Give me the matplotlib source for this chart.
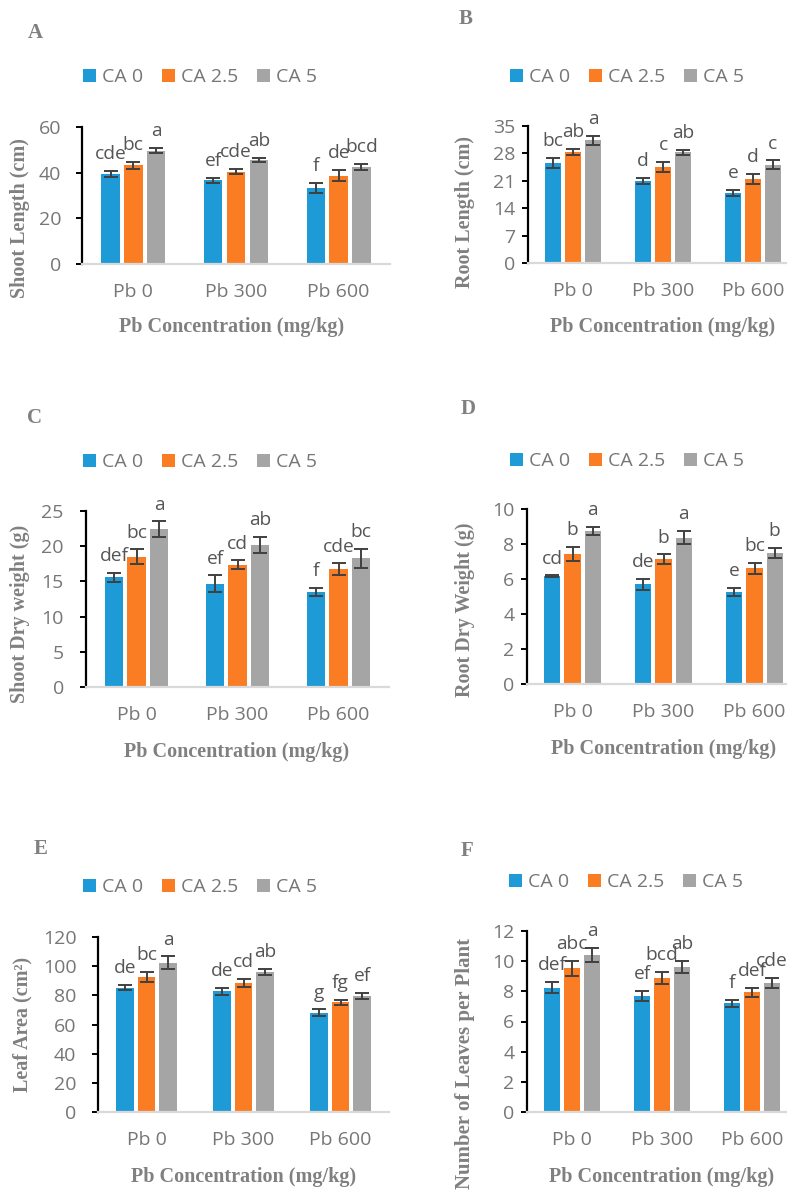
"""
Growth traits under Pb stress with citric acid (CA) doses - six panel bar chart
"""
import matplotlib
matplotlib.use("Agg")
import matplotlib.pyplot as plt
import numpy as np

W, H = 787, 1191

groups = ["Pb 0", "Pb 300", "Pb 600"]
series = ["CA 0", "CA 2.5", "CA 5"]
colors = ["#1E9BD7", "#FA7D23", "#A5A5A5"]

# values per series (CA 0, CA 2.5, CA 5), each over Pb 0 / 300 / 600
shoot_length = [[39.4, 36.6, 33.3], [43.3, 40.4, 38.7], [49.7, 45.6, 42.6]]
shoot_length_err = [[1.5, 1.2, 2.3], [1.5, 1.2, 2.4], [1.3, 0.9, 1.4]]
shoot_length_let = [["cde", "ef", "f"], ["bc", "cde", "de"], ["a", "ab", "bcd"]]

root_length = [[25.5, 21.0, 17.8], [28.4, 24.6, 21.5], [31.3, 28.3, 25.1]]
root_length_err = [[1.3, 0.8, 0.8], [0.85, 1.3, 1.2], [1.15, 0.6, 1.1]]
root_length_let = [["bc", "d", "e"], ["ab", "c", "d"], ["a", "ab", "c"]]

shoot_dw = [[15.6, 14.7, 13.5], [18.5, 17.4, 16.7], [22.4, 20.2, 18.3]]
shoot_dw_err = [[0.66, 1.15, 0.6], [1.04, 0.57, 0.85], [1.13, 1.1, 1.35]]
shoot_dw_let = [["def", "ef", "f"], ["bc", "cd", "cde"], ["a", "ab", "bc"]]

root_dw = [[6.16, 5.70, 5.27], [7.43, 7.13, 6.62], [8.75, 8.37, 7.49]]
root_dw_err = [[0.05, 0.3, 0.24], [0.4, 0.28, 0.31], [0.25, 0.36, 0.29]]
root_dw_let = [["cd", "de", "e"], ["b", "b", "bc"], ["a", "a", "b"]]

leaf_area = [[85.2, 82.7, 68.1], [92.5, 88.4, 75.2], [102.5, 95.9, 79.5]]
leaf_area_err = [[1.7, 2.3, 2.2], [3.4, 3.0, 1.9], [4.2, 2.2, 2.0]]
leaf_area_let = [["de", "de", "g"], ["bc", "cd", "fg"], ["a", "ab", "ef"]]

leaves = [[8.25, 7.70, 7.21], [9.53, 8.89, 7.94], [10.43, 9.62, 8.54]]
leaves_err = [[0.38, 0.32, 0.24], [0.5, 0.42, 0.29], [0.46, 0.41, 0.34]]
leaves_let = [["def", "ef", "f"], ["abc", "bcd", "def"], ["a", "ab", "cde"]]

SANS = ["Open Sans", "DejaVu Sans"]
SERIF = ["Liberation Serif", "DejaVu Serif"]
TXT = "#767676"
LAB = "#808080"

# layout of each panel, in pixels from top-left
panels = [
    dict(tag="A", vals=shoot_length, err=shoot_length_err, let=shoot_length_let,
         ylabel="Shoot Length (cm)", ymax=60, step=20,
         box=(82, 390, 127, 264), pad=11, lab=(20, 218, "center"),
         leg=(200, 77), tagpos=(35, 33), xl=(232, 327)),
    dict(tag="B", vals=root_length, err=root_length_err, let=root_length_let,
         ylabel="Root Length (cm)", ymax=35, step=7,
         box=(528, 798, 126, 263), pad=5, lab=(465, 212, "center"),
         leg=(627, 77), tagpos=(466, 19), xl=(663, 327)),
    dict(tag="C", vals=shoot_dw, err=shoot_dw_err, let=shoot_dw_let,
         ylabel="Shoot Dry weight (g)", ymax=25, step=5,
         box=(86, 389, 511, 687), pad=12, lab=(20, 614, "center"),
         leg=(200, 462), tagpos=(34, 418), xl=(237, 752)),
    dict(tag="D", vals=root_dw, err=root_dw_err, let=root_dw_let,
         ylabel="Root Dry Weight (g)", ymax=10, step=2,
         box=(527, 800, 509, 684), pad=5, lab=(465, 610, "center"),
         leg=(627, 461), tagpos=(468, 409), xl=(664, 749)),
    dict(tag="E", vals=leaf_area, err=leaf_area_err, let=leaf_area_let,
         ylabel="Leaf Area (cm²)", ymax=120, step=20,
         box=(98, 389, 937, 1112), pad=11.5, lab=(22, 1024, "center"),
         leg=(200, 887), tagpos=(41, 849), xl=(244, 1177)),
    dict(tag="F", vals=leaves, err=leaves_err, let=leaves_let,
         ylabel="Number of Leaves per Plant", ymax=12, step=2,
         box=(527, 797, 931, 1112), pad=5, lab=(465, 938, "top"),
         leg=(626, 882), tagpos=(467, 851), xl=(662, 1177)),
]

fig = plt.figure(figsize=(W / 100, H / 100), dpi=100)
fig.patch.set_facecolor("white")

x = np.arange(len(groups))
width = 0.18
step_off = 0.222

for p in panels:
    l, r, t, b = p["box"]
    ax = fig.add_axes([l / W, 1 - b / H, (r - l) / W, (b - t) / H])
    bars = []
    for i, name in enumerate(series):
        xs = x + (i - 1) * step_off
        bc = ax.bar(xs, p["vals"][i], width, color=colors[i], label=name, zorder=2)
        bars.append(bc)
        ax.errorbar(xs, p["vals"][i], yerr=p["err"][i], fmt="none", ecolor="#404040",
                    elinewidth=1.4, capsize=5, capthick=1.4, zorder=3)
        for xi, v, e, s in zip(xs, p["vals"][i], p["err"][i], p["let"][i]):
            ax.annotate(s, xy=(xi, v + e), xytext=(0, 8.5), textcoords="offset points",
                        ha="center", va="baseline", fontsize=13.8, color="#555555",
                        family=SANS, annotation_clip=False)

    ax.set_xlim(-0.5, 2.5)
    ax.set_ylim(0, p["ymax"])
    ax.set_yticks(np.arange(0, p["ymax"] + 0.01, p["step"]))
    ax.set_xticks(x)
    ax.set_xticklabels(groups)
    for sp in ["top", "right"]:
        ax.spines[sp].set_visible(False)
    ax.spines["left"].set_color("black")
    ax.spines["left"].set_linewidth(1.6)
    ax.spines["bottom"].set_color("#D9D9D9")
    ax.spines["bottom"].set_linewidth(1.6)
    ax.tick_params(axis="y", direction="out", length=4, width=1.4, color="black",
                   pad=p["pad"], labelsize=14, labelcolor=TXT)
    ax.tick_params(axis="x", length=0, pad=14, labelsize=14, labelcolor=TXT)
    for lbl in ax.get_xticklabels() + ax.get_yticklabels():
        lbl.set_family(SANS)

    fig.legend(handles=bars, labels=series, loc="center", ncol=3,
               bbox_to_anchor=(p["leg"][0] / W, 1 - p["leg"][1] / H),
               frameon=False, handlelength=0.65, handleheight=0.65,
               handletextpad=0.3, columnspacing=1.0,
               prop={"family": SANS, "size": 14}, labelcolor=TXT)

    lx, ly, va = p["lab"]
    fig.text(lx / W, 1 - ly / H, p["ylabel"], rotation=90, ha="center", va=va,
             fontsize=15 if p["tag"] == "F" else 14.5, fontweight="bold",
             color=LAB, family=SERIF)
    fig.text(p["xl"][0] / W, 1 - p["xl"][1] / H, "Pb Concentration (mg/kg)",
             ha="center", va="center", fontsize=14.5, fontweight="bold",
             color=LAB, family=SERIF)
    fig.text(p["tagpos"][0] / W, 1 - p["tagpos"][1] / H, p["tag"],
             ha="center", va="center", fontsize=15, fontweight="bold",
             color=LAB, family=SERIF)

plt.savefig("out.png", dpi=100)
